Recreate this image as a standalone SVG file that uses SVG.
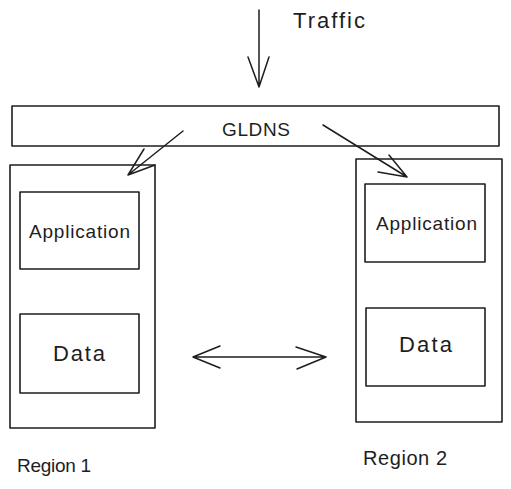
<svg xmlns="http://www.w3.org/2000/svg" width="511" height="489" viewBox="0 0 511 489">
<style>
.box{fill:none;stroke:#1e1e1e;stroke-width:1.6;stroke-linejoin:round}
.ln{fill:none;stroke:#1e1e1e;stroke-width:1.5;stroke-linecap:round;stroke-linejoin:round}
.t{font-family:"Liberation Sans",Arial,sans-serif;font-size:19px;fill:#1e1e1e}
.big{font-size:22px}
</style>
<rect width="511" height="489" fill="#ffffff"/>
<g id="traffic-label"><text class="t big" x="293" y="28" textLength="72" lengthAdjust="spacing">Traffic</text></g>
<g id="gldns">
<rect class="box" x="12" y="106" width="487" height="40"/>
<text class="t" x="222" y="136" textLength="68" lengthAdjust="spacing">GLDNS</text>
</g>
<g id="region1">
<rect class="box" x="10" y="165" width="145" height="263"/>
<text class="t" x="17" y="472" textLength="74" lengthAdjust="spacing">Region 1</text>
</g>
<g id="app1">
<rect class="box" x="20" y="192" width="119" height="77"/>
<text class="t" x="29" y="238" textLength="101" lengthAdjust="spacing">Application</text>
</g>
<g id="data1">
<rect class="box" x="20" y="314" width="119" height="79"/>
<text class="t big" x="53" y="361" textLength="52" lengthAdjust="spacing">Data</text>
</g>
<g id="region2">
<rect class="box" x="356" y="159" width="146" height="263"/>
<text class="t" x="363" y="465" style="font-size:20px" textLength="84" lengthAdjust="spacing">Region 2</text>
</g>
<g id="app2">
<rect class="box" x="365" y="184" width="120" height="78"/>
<text class="t" x="376" y="230" textLength="101" lengthAdjust="spacing">Application</text>
</g>
<g id="data2">
<rect class="box" x="366" y="308" width="119" height="78"/>
<text class="t big" x="399" y="352" textLength="53" lengthAdjust="spacing">Data</text>
</g>
<g id="connectors">
<path class="ln" d="M259 10 L259 87 M248 57 L259 87 L269 57"/>
<path class="ln" d="M183 131 L128 175 M144 149 L128 175 L155 165"/>
<path class="ln" d="M323 125 L407 177 M389 155 L407 177 L378 172"/>
<path class="ln" d="M193 357 L326 357 M220 346 L193 357 L220 368 M296 347 L326 357 L297 369"/>
</g>
</svg>
